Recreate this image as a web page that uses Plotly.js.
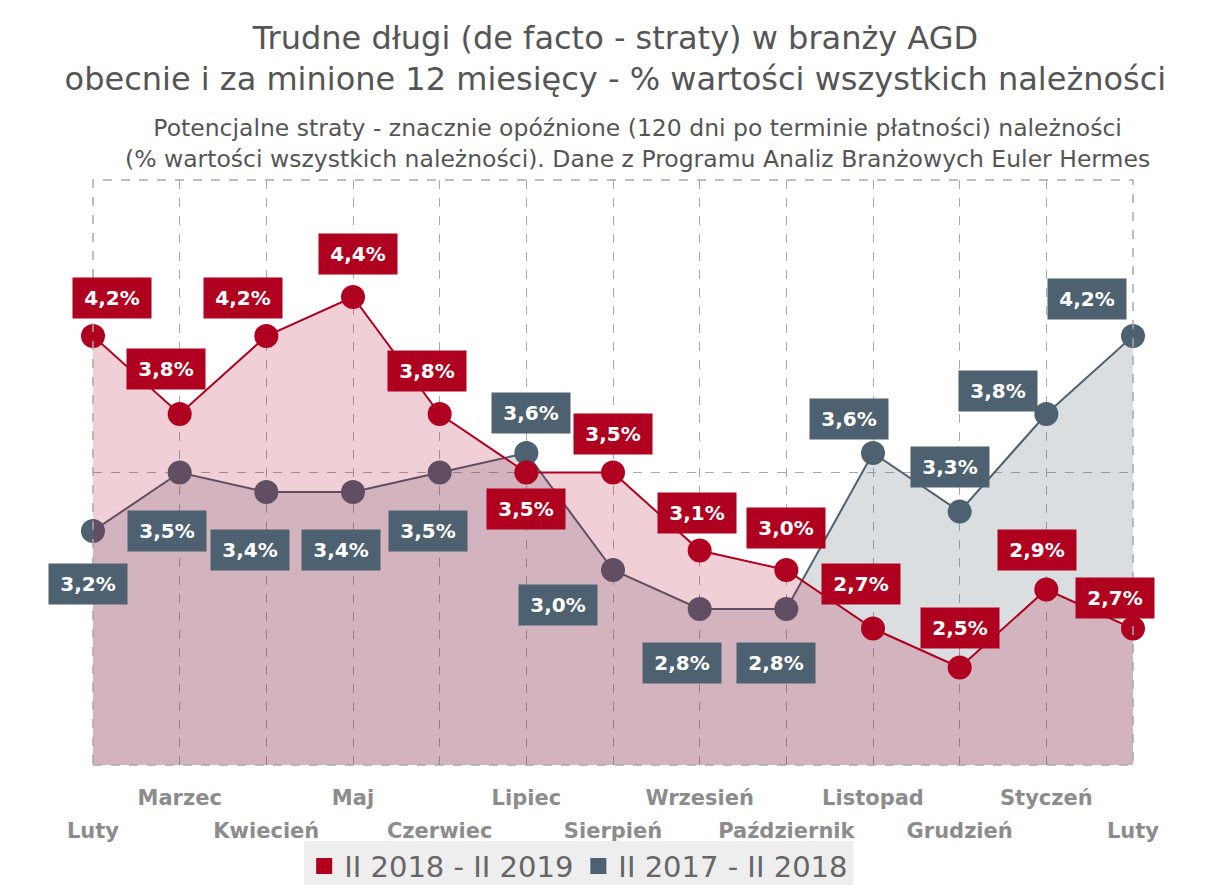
<!DOCTYPE html>
<html>
<head>
<meta charset="utf-8">
<script src="https://cdn.plot.ly/plotly-3.0.1.min.js"></script>
<style>html,body{margin:0;padding:0;background:#fff;}#chart{width:1209px;height:885px;}</style>
</head>
<body>
<div id="chart"></div>
<script>
// ---- data ----
const months = ['Luty','Marzec','Kwiecień','Maj','Czerwiec','Lipiec','Sierpień','Wrzesień','Październik','Listopad','Grudzień','Styczeń','Luty'];
const series1Name = 'II 2018 - II 2019';
const series2Name = 'II 2017 - II 2018';
const series1 = [4.2,3.8,4.2,4.4,3.8,3.5,3.5,3.1,3.0,2.7,2.5,2.9,2.7];
const series2 = [3.2,3.5,3.4,3.4,3.5,3.6,3.0,2.8,2.8,3.6,3.3,3.8,4.2];

// ---- label placement (pixel shifts, style only) ----
const shift1 = [[19,38],[-14,45],[-23,38],[5,43],[-13,43],[0,-36],[0,39],[-3,38],[0,42],[-12,45],[0,40],[-9,40],[-18,31]];
const shift2 = [[-5,-53],[-13,-58],[-16,-58],[-12,-58],[-12,-58],[5,40],[-55,-35],[-18,-54],[-10,-54],[-24,34],[-10,45],[-48,23],[-46,37]];

const RED = '#b0001f';
const GRAY = '#4e6170';
const FONT = 'DejaVu Sans, Verdana, sans-serif';
const idx = months.map((_, i) => i);
const oddIdx = idx.filter(i => i % 2 === 1);
const evenIdx = idx.filter(i => i % 2 === 0);
const fmt = v => v.toFixed(1).replace('.', ',') + '%';

const traces = [
  {x: idx, y: series2, type: 'scatter', mode: 'lines+markers', fill: 'tozeroy',
   fillcolor: 'rgba(79,98,114,0.21)', line: {color: GRAY, width: 2},
   marker: {color: GRAY, size: 24}, cliponaxis: false, showlegend: false, hoverinfo: 'skip'},
  {x: idx, y: series1, type: 'scatter', mode: 'lines+markers', fill: 'tozeroy',
   fillcolor: 'rgba(180,0,45,0.19)', line: {color: RED, width: 2},
   marker: {color: RED, size: 24}, cliponaxis: false, showlegend: false, hoverinfo: 'skip'},
  {x: [null], y: [null], type: 'scatter', mode: 'markers', name: series1Name,
   marker: {color: RED, size: 30, symbol: 'square'}},
  {x: [null], y: [null], type: 'scatter', mode: 'markers', name: series2Name,
   marker: {color: GRAY, size: 30, symbol: 'square'}},
  {x: [0, 12], y: [null, null], xaxis: 'x2', type: 'scatter', mode: 'lines', showlegend: false, hoverinfo: 'skip'}
];

const annotations = [];
series2.forEach((v, i) => annotations.push({
  x: i, y: v, xref: 'x', yref: 'y', text: '<b>' + fmt(v) + '</b>', showarrow: false,
  xshift: shift2[i][0], yshift: shift2[i][1], bgcolor: GRAY, width: 76, height: 38,
  font: {family: FONT, size: 20, color: '#ffffff'}
}));
series1.forEach((v, i) => annotations.push({
  x: i, y: v, xref: 'x', yref: 'y', text: '<b>' + fmt(v) + '</b>', showarrow: false,
  xshift: shift1[i][0], yshift: shift1[i][1], bgcolor: RED, width: 76, height: 38,
  font: {family: FONT, size: 20, color: '#ffffff'}
}));
annotations.push({
  xref: 'paper', yref: 'paper', x: 0.524, y: 1.062, xanchor: 'center', yanchor: 'middle',
  showarrow: false, align: 'center',
  text: 'Potencjalne straty - znacznie opóźnione (120 dni po terminie płatności) należności<br>(% wartości wszystkich należności). Dane z Programu Analiz Branżowych Euler Hermes',
  font: {family: FONT, size: 23.5, color: '#555555'}
});

const tickFont = {family: FONT, size: 21, color: '#8c8c8c'};

const layout = {
  width: 1209, height: 885,
  margin: {l: 93, r: 76, t: 180, b: 120},
  paper_bgcolor: '#ffffff', plot_bgcolor: '#ffffff',
  font: {family: FONT, color: '#555555'},
  title: {
    text: 'Trudne długi (de facto - straty) w branży AGD<br>obecnie i za minione 12 miesięcy - % wartości wszystkich należności',
    x: 0.509, xanchor: 'center', yref: 'container', y: 0.945, yanchor: 'top',
    font: {family: FONT, size: 32, color: '#555555'}
  },
  xaxis: {
    range: [0, 12], tickvals: oddIdx, ticktext: oddIdx.map(i => '<b>' + months[i] + '</b>'),
    showgrid: true, gridcolor: '#a8a8a8', griddash: 'dash', gridwidth: 1,
    zeroline: false, showline: false, ticks: '', ticklabelstandoff: 18, tickfont: tickFont,
    automargin: false
  },
  xaxis2: {
    range: [0, 12], overlaying: 'x', side: 'bottom', anchor: 'y',
    tickvals: evenIdx, ticktext: evenIdx.map(i => '<b>' + months[i] + '</b>'),
    showgrid: true, gridcolor: '#a8a8a8', griddash: 'dash', gridwidth: 1,
    zeroline: false, showline: false, ticks: '', ticklabelstandoff: 51, tickfont: tickFont,
    automargin: false
  },
  yaxis: {
    range: [2, 5], tickvals: [2, 3.5, 5], showticklabels: false,
    showgrid: true, gridcolor: '#a8a8a8', griddash: 'dash', gridwidth: 1,
    zeroline: false, showline: false, ticks: '', automargin: false
  },
  shapes: [{
    type: 'rect', xref: 'paper', yref: 'paper', x0: 0, x1: 1, y0: 0, y1: 1,
    line: {color: '#a8a8a8', width: 1.5, dash: 'dash'}, layer: 'above'
  }],
  showlegend: true,
  legend: {
    orientation: 'h', xref: 'paper', x: 0.467, xanchor: 'center',
    yref: 'container', y: 0.05, yanchor: 'top',
    bgcolor: '#eeeeee', font: {family: FONT, size: 29, color: '#666666'},
    itemwidth: 30, tracegroupgap: 0
  },
  annotations: annotations
};

Plotly.newPlot('chart', traces, layout, {displayModeBar: false, staticPlot: true});
</script>
</body>
</html>
